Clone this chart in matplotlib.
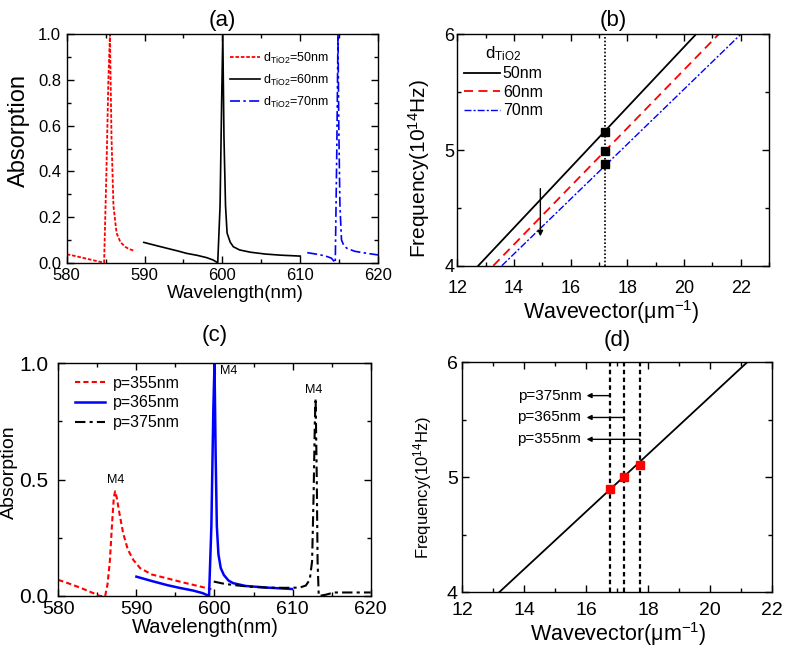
import matplotlib
matplotlib.use('Agg')
import matplotlib.pyplot as plt
from matplotlib.ticker import MultipleLocator, FormatStrFormatter

plt.rcParams['font.family'] = ['Liberation Sans', 'DejaVu Sans']
plt.rcParams['mathtext.fontset'] = 'custom'
plt.rcParams['mathtext.rm'] = 'Liberation Sans'
plt.rcParams['mathtext.it'] = 'Liberation Sans:italic'

# ---- panel (a): absorption vs wavelength for different TiO2 thickness
a50_x = [580, 581, 582, 583, 584, 584.8, 585.1, 585.35, 585.55, 585.75, 586.0, 586.4, 586.9, 587.5, 588.0, 588.6]
a50_y = [0.037, 0.030, 0.022, 0.014, 0.006, 0.0, 0.4, 0.8, 1.0, 0.55, 0.25, 0.13, 0.09, 0.07, 0.06, 0.053]
a60_x = [589.9, 591.5, 592.9, 594.2, 595.4, 596.8, 598.0, 598.8, 599.4, 599.7, 599.9, 600.05, 600.2, 600.4, 600.6, 601.0, 601.4, 602.2, 603.6, 605.5, 607.5, 610.0]
a60_y = [0.089, 0.075, 0.063, 0.052, 0.041, 0.032, 0.022, 0.012, 0.0, 0.25, 0.7, 1.0, 0.55, 0.25, 0.13, 0.09, 0.07, 0.056, 0.046, 0.038, 0.033, 0.029]
a70_x = [610.9, 612.0, 613.2, 614.0, 614.5, 614.7, 614.85, 614.95, 615.1, 615.3, 615.6, 616.0, 617.0, 618.6, 620.0]
a70_y = [0.044, 0.038, 0.030, 0.020, 0.0, 0.5, 1.0, 0.6, 0.25, 0.1, 0.075, 0.063, 0.05, 0.041, 0.034]

# ---- panel (b): dispersion lines
b_k50 = [12.74, 20.42]
b_f50 = [4.0, 6.0]
b_k60 = [13.27, 21.22]
b_f60 = [4.0, 6.0]
b_k70 = [13.57, 22.0]
b_f70 = [4.0, 6.0]
b_kmark = [17.22, 17.22, 17.22]
b_fmark = [5.16, 4.99, 4.88]

# ---- panel (c): absorption vs wavelength for different period
c355_x = [580, 581.5, 583, 584.5, 585.3, 586.0, 586.3, 586.6, 586.9, 587.1, 587.27, 587.5, 587.8, 588.3, 588.9, 589.6, 590.5, 592.0, 593.9, 596.0, 598.0, 599.6]
c355_y = [0.069, 0.052, 0.033, 0.012, 0.0, 0.0, 0.05, 0.15, 0.32, 0.42, 0.45, 0.42, 0.36, 0.27, 0.2, 0.155, 0.119, 0.092, 0.076, 0.058, 0.042, 0.029]
c365_x = [590.0, 592.0, 593.9, 595.5, 597.3, 598.5, 599.3, 599.6, 599.85, 600.0, 600.15, 600.3, 600.5, 600.8, 601.2, 601.8, 602.4, 604.0, 606.7, 609.9]
c365_y = [0.083, 0.064, 0.047, 0.035, 0.023, 0.012, 0.0, 0.3, 0.8, 1.0, 0.6, 0.3, 0.18, 0.12, 0.09, 0.066, 0.055, 0.043, 0.036, 0.03]
c375_x = [599.9, 601.0, 602.4, 604.5, 606.7, 609.0, 610.9, 611.7, 612.2, 612.5, 612.7, 612.85, 612.95, 613.1, 613.2, 613.35, 614.2, 615.3, 617.5, 620.0]
c375_y = [0.062, 0.054, 0.047, 0.04, 0.036, 0.035, 0.036, 0.045, 0.07, 0.15, 0.45, 0.75, 0.85, 0.5, 0.15, 0.0, 0.005, 0.015, 0.015, 0.015]
c_m4_x = [587.3, 601.8, 612.7]
c_m4_y = [0.50, 0.965, 0.885]

# ---- panel (d): single dispersion line with period markers
d_k = [13.2, 21.2]
d_f = [4.0, 6.0]
d_kmark = [16.77, 17.23, 17.74]
d_fmark = [4.9, 5.0, 5.11]
d_labels = ['p=375nm', 'p=365nm', 'p=355nm']
d_label_f = [5.71, 5.52, 5.33]


def style_axes(ax, xsize, ysize, xpad, ypad):
    ax.tick_params(which='both', direction='in', top=True, right=True)
    ax.tick_params(which='major', length=5, width=1)
    ax.tick_params(which='minor', length=3, width=1)
    ax.tick_params(axis='x', labelsize=xsize, pad=xpad)
    ax.tick_params(axis='y', labelsize=ysize, pad=ypad)
    for s in ax.spines.values():
        s.set_linewidth(1.0)


fig = plt.figure(figsize=(7.87, 6.49), dpi=100)

# (a)
ax = fig.add_axes([0.0848, 0.5952, 0.3956, 0.3519])
ax.plot(a50_x, a50_y, color='red', ls=(0, (2, 1)), lw=1.3, label=r'd$_{\mathregular{TiO2}}$=50nm')
ax.plot(a60_x, a60_y, color='black', ls='-', lw=1.2, label=r'd$_{\mathregular{TiO2}}$=60nm')
ax.plot(a70_x, a70_y, color='blue', ls=(0, (6, 2, 1.5, 2)), lw=1.2, label=r'd$_{\mathregular{TiO2}}$=70nm')
ax.set_xlim(580, 620)
ax.set_ylim(0, 1.0)
ax.xaxis.set_major_locator(MultipleLocator(10))
ax.xaxis.set_minor_locator(MultipleLocator(5))
ax.yaxis.set_major_locator(MultipleLocator(0.2))
ax.yaxis.set_minor_locator(MultipleLocator(0.1))
ax.yaxis.set_major_formatter(FormatStrFormatter('%.1f'))
style_axes(ax, 12, 12, 3.5, 4)
ax.set_xlabel('Wavelength(nm)', fontsize=13.5, labelpad=2)
ax.set_ylabel('Absorption', fontsize=17, labelpad=6)
ax.xaxis.label.set_x(0.543)
ax.yaxis.label.set_y(0.577)
ax.set_title('(a)', fontsize=16, pad=6)
ax.legend(loc='upper right', bbox_to_anchor=(0.86, 0.95), frameon=False, fontsize=9,
          handlelength=2.4, handletextpad=0.3, labelspacing=0.55, borderaxespad=0)

# (b)
ax = fig.add_axes([0.5811, 0.5906, 0.3961, 0.3565])
ax.plot(b_k50, b_f50, color='black', ls='-', lw=1.3, label='50nm')
ax.plot(b_k60, b_f60, color='red', ls=(0, (5, 3)), lw=1.3, label='60nm')
ax.plot(b_k70, b_f70, color='blue', ls=(0, (5, 1.5, 1.5, 1.5)), lw=1.0, label='70nm')
ax.axvline(b_kmark[0], color='black', ls=(0, (1, 1.2)), lw=1.2)
ax.plot(b_kmark, b_fmark, 's', color='black', ms=5.5, ls='none')
ax.annotate('', xy=(14.93, 4.23), xytext=(14.93, 4.69),
            arrowprops=dict(arrowstyle='-|>', color='black', lw=1.0, mutation_scale=8))
ax.set_xlim(12, 23)
ax.set_ylim(4, 6)
ax.xaxis.set_major_locator(MultipleLocator(2))
ax.xaxis.set_minor_locator(MultipleLocator(1))
ax.yaxis.set_major_locator(MultipleLocator(1))
ax.yaxis.set_minor_locator(MultipleLocator(0.5))
style_axes(ax, 13, 13, 10, 2)
ax.set_xlabel(r'Wavevector($\mathregular{\mu m^{-1}}$)', fontsize=15.5, labelpad=1)
ax.set_ylabel(r'Frequency($\mathregular{10^{14}}$Hz)', fontsize=15, labelpad=9)
ax.xaxis.label.set_x(0.495)
ax.yaxis.label.set_y(0.42)
ax.set_title('(b)', fontsize=16, pad=6)
ax.legend(loc='upper left', bbox_to_anchor=(0.0, 0.985), frameon=False, fontsize=11.5,
          title=r'd$_{\mathregular{TiO2}}$', title_fontsize=12,
          handlelength=2.3, handletextpad=0.15, labelspacing=0.22, borderaxespad=0)

# (c)
ax = fig.add_axes([0.0741, 0.0817, 0.3969, 0.3585])
ax.plot(c355_x, c355_y, color='red', ls=(0, (2.5, 1.5)), lw=1.5, label='p=355nm')
ax.plot(c365_x, c365_y, color='blue', ls='-', lw=1.8, label='p=365nm')
ax.plot(c375_x, c375_y, color='black', ls=(0, (5, 2, 1.5, 2)), lw=1.5, label='p=375nm')
for mx, my in zip(c_m4_x, c_m4_y):
    ax.text(mx, my, 'M4', fontsize=9, ha='center', va='center')
ax.set_xlim(580, 620)
ax.set_ylim(0, 1.0)
ax.xaxis.set_major_locator(MultipleLocator(10))
ax.xaxis.set_minor_locator(MultipleLocator(5))
ax.yaxis.set_major_locator(MultipleLocator(0.5))
ax.yaxis.set_minor_locator(MultipleLocator(0.25))
ax.yaxis.set_major_formatter(FormatStrFormatter('%.1f'))
style_axes(ax, 14, 15, 3.5, 7)
ax.set_xlabel('Wavelength(nm)', fontsize=14.5, labelpad=0)
ax.set_ylabel('Absorption', fontsize=14, labelpad=1)
ax.xaxis.label.set_x(0.471)
ax.yaxis.label.set_y(0.53)
ax.set_title('(c)', fontsize=16, pad=16)
ax.legend(loc='upper left', bbox_to_anchor=(0.033, 0.975), frameon=False, fontsize=11.5,
          handlelength=1.9, handletextpad=0.5, labelspacing=0.3, borderaxespad=0)

# (d)
ax = fig.add_axes([0.5870, 0.0874, 0.3939, 0.3544])
ax.plot(d_k, d_f, color='black', ls='-', lw=1.3)
for k in d_kmark:
    ax.axvline(k, color='black', ls=(0, (2, 1.5)), lw=1.6)
ax.plot(d_kmark, d_fmark, 's', color='red', ms=6, ls='none')
for k, f, lab in zip(d_kmark, d_label_f, d_labels):
    ax.annotate('', xy=(16.02, f), xytext=(k, f),
                arrowprops=dict(arrowstyle='-|>', color='black', lw=1.0, mutation_scale=7,
                                shrinkA=0, shrinkB=0))
    ax.text(15.85, f, lab, fontsize=11, ha='right', va='center')
ax.set_xlim(12, 22)
ax.set_ylim(4, 6)
ax.xaxis.set_major_locator(MultipleLocator(2))
ax.xaxis.set_minor_locator(MultipleLocator(1))
ax.yaxis.set_major_locator(MultipleLocator(1))
ax.yaxis.set_minor_locator(MultipleLocator(0.5))
style_axes(ax, 14, 14, 7, 3)
ax.set_xlabel(r'Wavevector($\mathregular{\mu m^{-1}}$)', fontsize=15.5, labelpad=1)
ax.set_ylabel(r'Frequency($\mathregular{10^{14}}$Hz)', fontsize=12, labelpad=9)
ax.xaxis.label.set_x(0.504)
ax.yaxis.label.set_y(0.456)
ax.set_title('(d)', fontsize=16, pad=12)

fig.savefig('out.png', dpi=100)
